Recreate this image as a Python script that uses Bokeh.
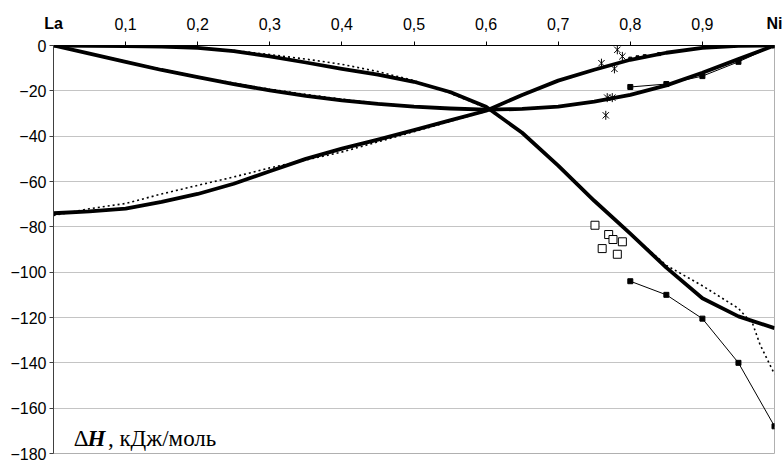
from bokeh.plotting import figure
from bokeh.models import Range1d, FixedTicker, Label, CustomJSTickFormatter, LinearAxis
from bokeh.embed import file_html
from bokeh.resources import INLINE

# ---- data ----
x_grid = [0.0, 0.05, 0.1, 0.15, 0.2, 0.25, 0.3, 0.35, 0.4, 0.45, 0.5,
          0.55, 0.6, 0.65, 0.7, 0.75, 0.8, 0.85, 0.9, 0.95, 1.0]

# thick curves
h_la = [0, -0.1, -0.3, -0.5, -1, -2.5, -4.8, -7.5, -10.3, -12.8, -16,
        -20.5, -27, -38.5, -53, -68.5, -83, -98, -111.5, -119.5, -124.7]
h_mix = [0, -3.6, -7.2, -10.8, -14, -17, -19.8, -22.2, -24.2, -25.8, -27,
         -27.8, -28.3, -28, -27, -24.8, -21.8, -17.6, -12, -6, 0]
h_ni = [-74, -73.2, -72, -69, -65.5, -61, -55.5, -50, -45.5, -41.5, -37.3,
        -33, -28.8, -21.8, -15.5, -10.7, -6.3, -3.2, -1, -0.2, 0]

# dotted curves
d_la_x = [0.0, 0.1, 0.2, 0.25, 0.3, 0.35, 0.4, 0.45, 0.5, 0.55, 0.6, 0.65,
          0.7, 0.75, 0.8, 0.85, 0.9, 0.95, 0.97, 0.98, 1.0]
d_la = [0, -0.3, -1, -2.2, -4, -6, -8.3, -11.5, -15.5, -21, -27.5, -38.5,
        -53, -68.5, -83, -97, -106, -116, -123, -132, -145]
d_mix = [0, -3.5, -7, -10.5, -13.7, -16.6, -19.3, -21.6, -23.7, -25.5, -26.8,
         -27.7, -28.3, -28, -27, -24.8, -21.8, -17.6, -12, -6, 0]
d_ni = [-75, -72, -69.7, -65.5, -61.7, -58, -54, -50.5, -47, -42.5, -38,
        -33.5, -29, -22, -15.5, -10.7, -6.3, -3.2, -1, -0.2, 0]

# experimental series
exp_low_x = [0.8, 0.85, 0.9, 0.95, 1.0]
exp_low_y = [-104, -110, -120.5, -140, -168]
exp_up_x = [0.8, 0.85, 0.9, 0.95, 1.0]
exp_up_y = [-18.3, -17, -13.5, -7.2, 0]
dots_x = [0.8, 0.81, 0.82, 0.84]
dots_y = [-5.8, -5.2, -4.7, -3.8]
star_x = [0.782, 0.789, 0.760, 0.778, 0.768, 0.775, 0.766]
star_y = [-1.9, -4.8, -7.8, -10.3, -23, -23, -30.8]
sq_x = [0.751, 0.770, 0.776, 0.789, 0.761, 0.782]
sq_y = [-79.3, -83.4, -85.6, -86.6, -89.6, -92.1]

x_ticks = [0.1, 0.2, 0.3, 0.4, 0.5, 0.6, 0.7, 0.8, 0.9]
y_ticks = [-180, -160, -140, -120, -100, -80, -60, -40, -20, 0]
end_labels = ["La", "Ni"]
end_pos = [0, 1]

FONT = "Liberation Sans"

p = figure(frame_width=721, frame_height=408,
           x_range=Range1d(0, 1), y_range=Range1d(-180, 0),
           x_axis_location="above",
           output_backend="svg", toolbar_location=None,
           min_border_left=53, min_border_right=9,
           min_border_top=45, min_border_bottom=8)
p.background_fill_color = "white"
p.border_fill_color = "white"
p.outline_line_color = "#b0b0b0"

# axes
xa = p.xaxis[0]
xa.ticker = FixedTicker(ticks=x_ticks)
xa.formatter = CustomJSTickFormatter(code="return tick.toFixed(1).replace('.', ',');")
xa.axis_line_color = "black"
xa.major_tick_line_color = "black"
xa.major_tick_out = 4
xa.major_tick_in = 0
xa.minor_tick_line_color = None
xa.major_label_standoff = 12
xa.major_label_text_font = FONT
xa.major_label_text_font_size = "16px"
xa.major_label_text_color = "black"

# second top axis: bold end-member names at x = 0 and x = 1
xa2 = LinearAxis(ticker=FixedTicker(ticks=end_pos),
                 major_label_overrides={k: t for k, t in zip(end_pos, end_labels)})
xa2.axis_line_color = None
xa2.major_tick_line_color = None
xa2.minor_tick_line_color = None
xa2.major_tick_out = 0
xa2.major_tick_in = 0
xa2.major_label_standoff = -17
xa2.major_label_text_font = FONT
xa2.major_label_text_font_size = "16px"
xa2.major_label_text_font_style = "bold"
xa2.major_label_text_color = "black"
p.add_layout(xa2, "above")

ya = p.yaxis[0]
ya.ticker = FixedTicker(ticks=y_ticks)
ya.axis_line_color = "#404040"
ya.major_tick_line_color = "#404040"
ya.major_tick_out = 4
ya.major_tick_in = 0
ya.minor_tick_line_color = None
ya.major_label_standoff = 3
ya.major_label_text_font = FONT
ya.major_label_text_font_size = "16px"
ya.major_label_text_color = "black"

p.xgrid.grid_line_color = None
p.ygrid.grid_line_color = "#c4c4c4"
p.ygrid.grid_line_width = 1

# dotted model curves
for ys, xs in ((d_la, d_la_x), (d_mix, x_grid), (d_ni, x_grid)):
    p.line(xs, ys, line_color="black", line_width=1.6, line_dash="2 3")

# thick curves
for ys in (h_la, h_mix, h_ni):
    p.line(x_grid, ys, line_color="black", line_width=3.8, line_join="round")

# experimental thin lines with filled squares
p.line(exp_low_x, exp_low_y, line_color="black", line_width=1)
p.scatter(exp_low_x, exp_low_y, marker="square", size=5, fill_color="black", line_color="black")
p.line(exp_up_x, exp_up_y, line_color="black", line_width=1)
p.scatter(exp_up_x, exp_up_y, marker="square", size=5, fill_color="black", line_color="black")
p.scatter(dots_x, dots_y, marker="square", size=3, fill_color="black", line_color="black")

# asterisks
p.scatter(star_x, star_y, marker="x", size=9, line_color="black", line_width=1)
p.scatter(star_x, star_y, marker="dash", angle=1.5708, size=9, line_color="black", line_width=1)

# open squares
p.scatter(sq_x, sq_y, marker="square", size=8, fill_color="white", line_color="black", line_width=1)

# quantity label
SERIF = "Liberation Serif"
p.add_layout(Label(x=0.028, y=-173.6, text="\u0394", text_baseline="alphabetic",
                   text_font=SERIF, text_font_size="23px", text_color="black"))
p.add_layout(Label(x=0.047, y=-173.6, text="H", text_baseline="alphabetic",
                   text_font=SERIF, text_font_size="23px", text_font_style="bold italic",
                   text_color="black"))
p.add_layout(Label(x=0.0755, y=-173.6, text=", кДж/моль", text_baseline="alphabetic",
                   text_font=SERIF, text_font_size="23px", text_color="black"))

open("out.html", "w").write(file_html(p, INLINE))
